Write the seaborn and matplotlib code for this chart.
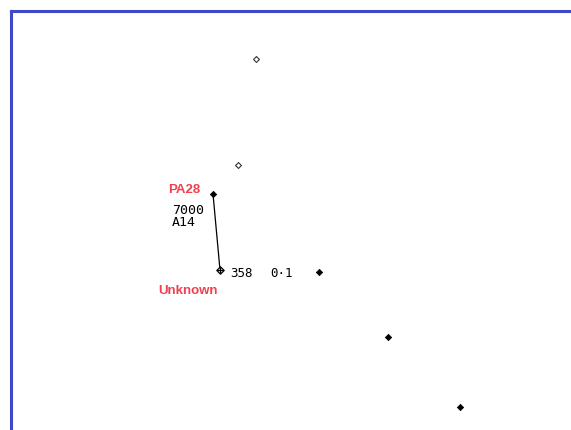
import seaborn as sns
import pandas as pd
import matplotlib.pyplot as plt

# radar-style screen, coordinates in screen pixels
hist_x = [256, 238]
hist_y = [59, 165]

target_x = [213, 319, 388, 460]
target_y = [194, 272, 337, 407]

own_x = [220]
own_y = [270]

# leader line from PA28 to the unknown contact
leader_x = [213, 220]
leader_y = [194, 270]

tag_lines = ['7000', 'A14']
range_text = '358'
bearing_text = '0·1'

sns.set_style('white')
plt.rcParams['font.family'] = ['DejaVu Sans']

fig = plt.figure(figsize=(5.71, 4.30), dpi=100)
ax = fig.add_axes([10.5 / 571, 0, 1 - 10.5 / 571, 1 - 10.5 / 430])
ax.set_xlim(10.5, 571)
ax.set_ylim(430, 10.5)

for side in ['right', 'bottom']:
    ax.spines[side].set_visible(False)
for side in ['left', 'top']:
    ax.spines[side].set_color('#4048c8')
    ax.spines[side].set_linewidth(2.2)
ax.set_xticks([])
ax.set_yticks([])

df_hist = pd.DataFrame({'x': hist_x, 'y': hist_y})
df_tgt = pd.DataFrame({'x': target_x, 'y': target_y})
df_own = pd.DataFrame({'x': own_x, 'y': own_y})

ax.plot(leader_x, leader_y, color='black', lw=0.9, zorder=1)
sns.scatterplot(data=df_hist, x='x', y='y', ax=ax, marker='D', s=9,
                facecolor='white', edgecolor='#333333', linewidth=0.8, zorder=3)
sns.scatterplot(data=df_tgt, x='x', y='y', ax=ax, marker='D', s=10,
                color='black', edgecolor='black', linewidth=0.6, zorder=3)
sns.scatterplot(data=df_own, x='x', y='y', ax=ax, marker='D', s=14,
                facecolor='white', edgecolor='black', linewidth=0.9, zorder=3)
sns.scatterplot(data=df_own, x='x', y='y', ax=ax, marker='+', s=20,
                color='black', linewidth=0.9, zorder=4)

red = '#f0404e'
ax.text(168, 190, 'PA28', color=red, fontsize=9.5, fontweight='bold',
        family='Liberation Sans', va='center', ha='left')
ax.text(158, 291, 'Unknown', color=red, fontsize=9.5, fontweight='bold',
        family='Liberation Sans', va='center', ha='left')
ax.text(172, 210, tag_lines[0], fontsize=9.5, family='DejaVu Sans Mono',
        color='black', va='center', ha='left')
ax.text(172, 222, tag_lines[1], fontsize=9.5, family='DejaVu Sans Mono',
        color='black', va='center', ha='left')
ax.text(230, 273, range_text, fontsize=9, family='DejaVu Sans Mono',
        color='black', va='center', ha='left')
ax.text(270, 273, bearing_text, fontsize=9, family='DejaVu Sans Mono',
        color='black', va='center', ha='left')

ax.set_xlabel('')
ax.set_ylabel('')
plt.savefig('out.png', dpi=100)
